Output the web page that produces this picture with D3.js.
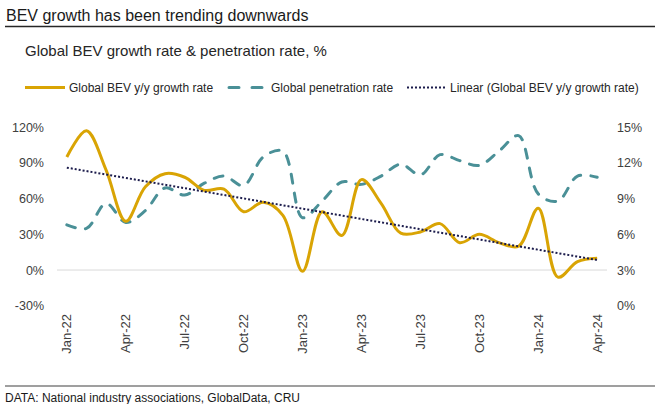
<!DOCTYPE html>
<html>
<head>
<meta charset="utf-8">
<script src="https://cdn.jsdelivr.net/npm/d3@7"></script>
<style>
  body { margin: 0; background: #fff; }
  svg { display: block; font-family: "Liberation Sans", Arial, sans-serif; }
  .tick-label { fill: #404040; font-size: 12.5px; }
</style>
</head>
<body>
<svg id="chart" width="660" height="404"></svg>
<script>
  const months = ['Jan-22', 'Feb-22', 'Mar-22', 'Apr-22', 'May-22', 'Jun-22', 'Jul-22', 'Aug-22', 'Sep-22', 'Oct-22', 'Nov-22', 'Dec-22',
    'Jan-23', 'Feb-23', 'Mar-23', 'Apr-23', 'May-23', 'Jun-23', 'Jul-23', 'Aug-23', 'Sep-23', 'Oct-23', 'Nov-23', 'Dec-23',
    'Jan-24', 'Feb-24', 'Mar-24', 'Apr-24'];
  // y/y growth, % (left axis)
  const growth = [95, 117, 84, 41, 70, 81, 78, 67, 68, 49, 57, 46,
    -1, 49, 29, 76, 56, 31, 32, 39, 23, 30, 23, 20,
    52, -6, 7, 10];
  // penetration, % (right axis)
  const penetration = [6.8, 6.5, 8.6, 7.0, 8.0, 9.9, 9.3, 10.3, 10.9, 10.1, 12.5, 13.0,
    7.4, 8.8, 10.4, 10.2, 10.9, 11.9, 11.0, 12.7, 12.2, 11.8, 13.0, 14.3,
    9.4, 8.8, 10.9, 10.8];
  const leftTicks = [-30, 0, 30, 60, 90, 120];
  const rightTicks = [0, 3, 6, 9, 12, 15];
  const xLabels = ['Jan-22', 'Apr-22', 'Jul-22', 'Oct-22', 'Jan-23', 'Apr-23', 'Jul-23', 'Oct-23', 'Jan-24', 'Apr-24'];

  const gold = '#d9a404';
  const teal = '#4a9097';
  const navy = '#1c1c4c';

  const svg = d3.select('#chart');

  // header
  svg.append('text').attr('x', 6).attr('y', 21)
    .attr('font-size', 16).attr('fill', '#1a1a1a')
    .text('BEV growth has been trending downwards');
  svg.append('line').attr('x1', 5).attr('x2', 655).attr('y1', 26.5).attr('y2', 26.5)
    .attr('stroke', '#262626').attr('stroke-width', 1.3);
  svg.append('text').attr('x', 25).attr('y', 56)
    .attr('font-size', 15).attr('fill', '#262626')
    .text('Global BEV growth rate & penetration rate, %');

  // legend
  const leg = svg.append('g').attr('transform', 'translate(0,87.5)');
  leg.append('line').attr('x1', 25).attr('x2', 65)
    .attr('stroke', gold).attr('stroke-width', 3);
  leg.append('text').attr('x', 69).attr('y', 4.3).attr('font-size', 12).attr('fill', '#262626')
    .text('Global BEV y/y growth rate');
  leg.append('line').attr('x1', 229).attr('x2', 264)
    .attr('stroke', teal).attr('stroke-width', 3)
    .attr('stroke-dasharray', '10,13').attr('stroke-linecap', 'round');
  leg.append('text').attr('x', 271).attr('y', 4.3).attr('font-size', 12).attr('fill', '#262626')
    .text('Global penetration rate');
  leg.append('line').attr('x1', 407).attr('x2', 445)
    .attr('stroke', navy).attr('stroke-width', 2).attr('stroke-dasharray', '2,2');
  leg.append('text').attr('x', 450).attr('y', 4.3).attr('font-size', 12).attr('fill', '#262626')
    .text('Linear (Global BEV y/y growth rate)');

  // scales
  const x = d3.scaleBand().domain(months).range([57, 607]);
  const cx = d => x(d) + x.bandwidth() / 2;
  const yL = d3.scaleLinear().domain([-30, 120]).range([305.7, 127.3]);
  const yR = d3.scaleLinear().domain([0, 15]).range([305.7, 127.3]);

  // zero line
  svg.append('line').attr('x1', 57).attr('x2', 607)
    .attr('y1', yL(0)).attr('y2', yL(0))
    .attr('stroke', '#d9d9d9').attr('stroke-width', 1);

  // left axis
  svg.append('g').selectAll('text').data(leftTicks).join('text')
    .attr('class', 'tick-label')
    .attr('x', 44).attr('y', d => yL(d) + 4.5)
    .attr('text-anchor', 'end')
    .text(d => d + '%');

  // right axis
  svg.append('g').selectAll('text').data(rightTicks).join('text')
    .attr('class', 'tick-label')
    .attr('x', 617).attr('y', d => yR(d) + 4.5)
    .text(d => d + '%');

  // x labels
  svg.append('g').selectAll('text').data(xLabels).join('text')
    .attr('class', 'tick-label')
    .attr('font-size', 13)
    .attr('transform', d => `translate(${cx(d) + 4.5},314) rotate(-90)`)
    .attr('text-anchor', 'end')
    .style('font-size', '13px')
    .text(d => d);

  // lines
  const pts = months.map((m, i) => ({ m, g: growth[i], p: penetration[i], i }));

  svg.append('path').datum(pts)
    .attr('fill', 'none').attr('stroke', teal).attr('stroke-width', 3)
    .attr('stroke-dasharray', '9,10').attr('stroke-linecap', 'round')
    .attr('d', d3.line().x(d => cx(d.m)).y(d => yR(d.p)).curve(d3.curveCatmullRom.alpha(0.5)));

  svg.append('path').datum(pts)
    .attr('fill', 'none').attr('stroke', gold).attr('stroke-width', 3)
    .attr('stroke-linejoin', 'round')
    .attr('d', d3.line().x(d => cx(d.m)).y(d => yL(d.g)).curve(d3.curveCatmullRom.alpha(0.5)));

  // least-squares trend of growth
  const n = growth.length;
  const mi = d3.mean(pts, d => d.i);
  const mg = d3.mean(growth);
  const slope = d3.sum(pts, d => (d.i - mi) * (d.g - mg)) / d3.sum(pts, d => (d.i - mi) ** 2);
  const trend = [pts[0], pts[n - 1]].map(d => ({ m: d.m, v: mg + slope * (d.i - mi) }));
  svg.append('path').datum(trend)
    .attr('fill', 'none').attr('stroke', navy).attr('stroke-width', 2)
    .attr('stroke-dasharray', '2,2')
    .attr('d', d3.line().x(d => cx(d.m)).y(d => yL(d.v)));

  // footer
  svg.append('line').attr('x1', 5).attr('x2', 655).attr('y1', 386).attr('y2', 386)
    .attr('stroke', '#7f7f7f').attr('stroke-width', 1.3);
  svg.append('text').attr('x', 5).attr('y', 402)
    .attr('font-size', 12).attr('fill', '#1a1a1a')
    .text('DATA: National industry associations, GlobalData, CRU');
</script>
</body>
</html>
